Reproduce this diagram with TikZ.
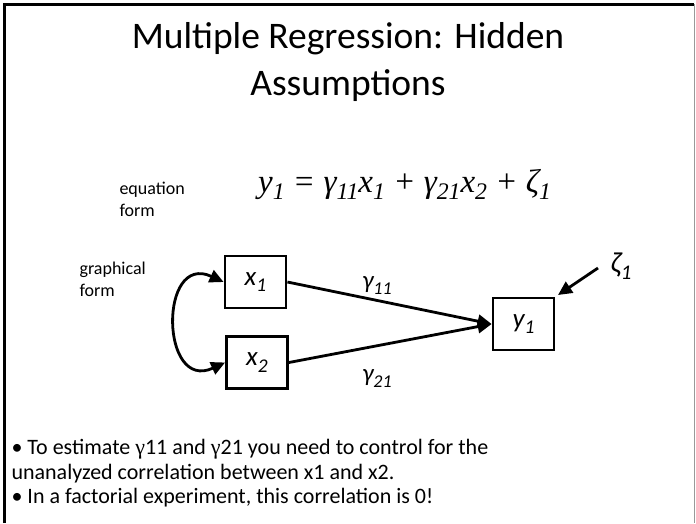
\documentclass[tikz,border=0pt]{standalone}
\usepackage{fontspec}
\setmainfont{Carlito}
\newfontfamily\serifeq{Liberation Serif}[ItalicFont={Liberation Serif Italic}]
\usetikzlibrary{arrows.meta}
\newcommand\lsub[1]{\raisebox{-0.24em}{\scalebox{0.72}{#1}}}
\begin{document}
\begin{tikzpicture}[x=1pt,y=-1pt,
  varbox/.style={draw,line width=2.8pt,minimum width=61pt,minimum height=52pt,inner sep=0pt,font=\fontsize{27}{30}\selectfont\itshape},
  tip/.style={-{Triangle[length=14pt,width=13pt]}},
  path/.style={line width=2.8pt,tip},
  lbl/.style={font=\fontsize{18}{22}\selectfont,align=left,anchor=west},
  body/.style={font=\fontsize{22}{25}\selectfont,anchor=base west},
  coef/.style={font=\fontsize{25}{28}\selectfont\itshape}]
\useasboundingbox (0,0) rectangle (696,523);
\draw[line width=3pt] (4,523) -- (4,4) -- (694,4);
\draw[line width=1pt,black!40] (694,4) -- (694,523);
\node[font=\fontsize{37.5}{47}\selectfont,align=center] (title) at (348,62) {Multiple Regression: Hidden\\Assumptions};
\node[lbl] (eqlbl) at (116,199) {equation\\form};
\node[anchor=base west,inner sep=0pt] (eq) at (258,192)
  {\serifeq\fontsize{33}{36}\selectfont\itshape y\lsub{1} = γ\lsub{11}x\lsub{1} + γ\lsub{21}x\lsub{2} + ζ\lsub{1}};
\node[lbl] (grlbl) at (76,279) {graphical\\form};
\node[varbox] (x1) at (255.5,282) {x\lsub{1}};
\node[varbox] (x2) at (257,362.5) {x\lsub{2}};
\node[varbox] (y1) at (523.5,324) {y\lsub{1}};
\node[font=\fontsize{29}{32}\selectfont\itshape] (zeta) at (621,266) {ζ\lsub{1}};
\node[coef] (g11) at (377,285) {γ\lsub{11}};
\node[coef] (g21) at (377,378) {γ\lsub{21}};
\coordinate (zs) at (598,268);
\coordinate (ze) at (558,295);
\draw[path] (x1.east) -- (y1.west);
\draw[path] (x2.east) -- (y1.west);
\draw[path] (zs) -- (ze);
\draw[line width=2.8pt,{Triangle[length=14pt,width=13pt]}-{Triangle[length=14pt,width=13pt]}]
  (x1.west) .. controls +(-65,-30) and +(-65,30) .. (x2.west);
\node[body] (b1) at (8,454) {• To estimate {\serifeq γ}11 and {\serifeq γ}21 you need to control for the};
\node[body] (b2) at (8,479) {unanalyzed correlation between x1 and x2.};
\node[body] (b3) at (8,503) {• In a factorial experiment, this correlation is 0!};
\end{tikzpicture}
\end{document}
